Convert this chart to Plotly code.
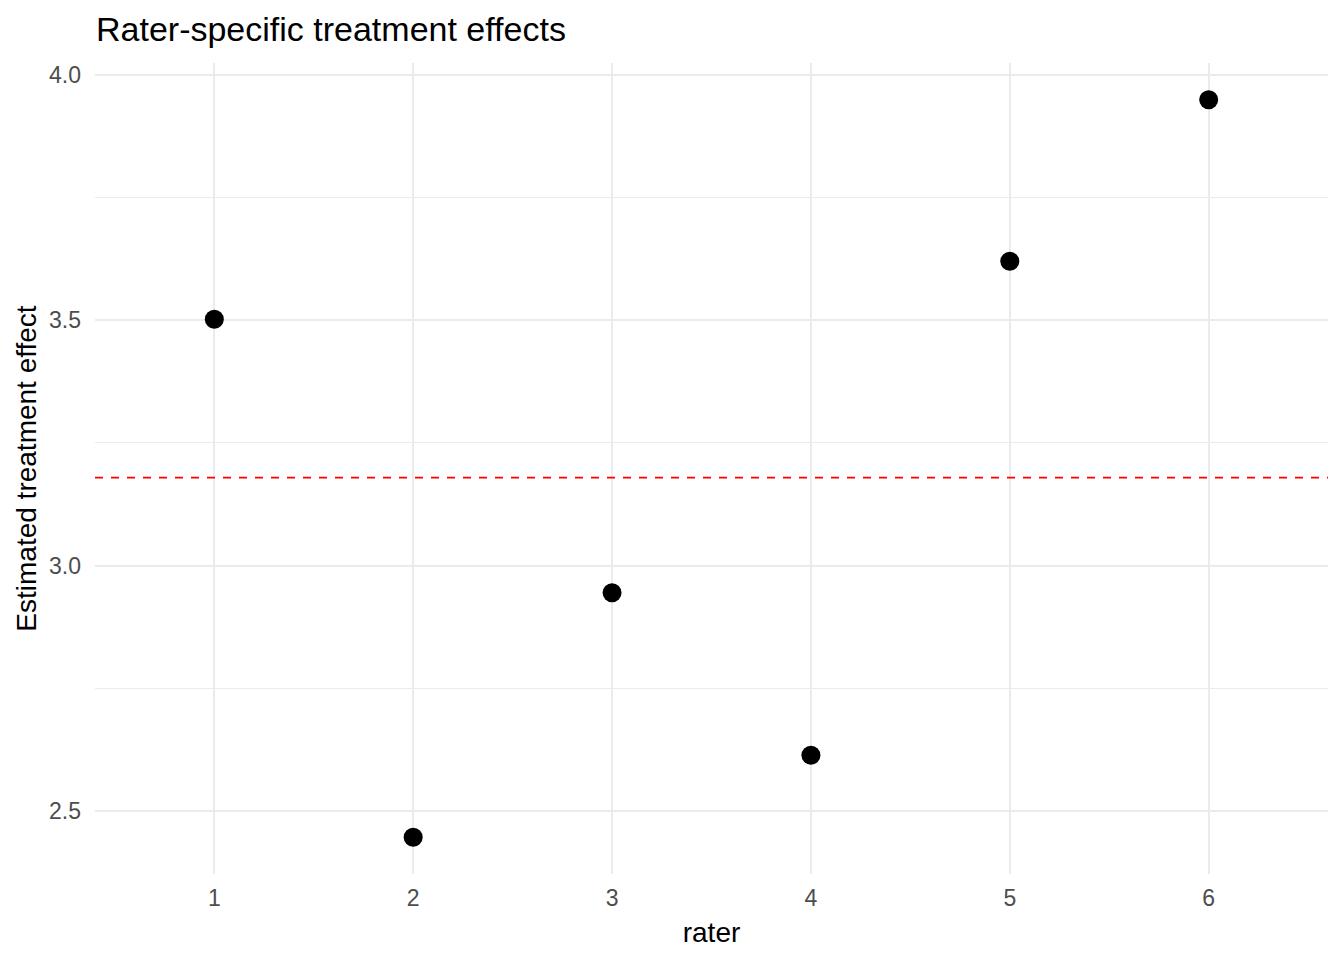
import plotly.graph_objects as go

raters = [1, 2, 3, 4, 5, 6]
effects = [3.502, 2.447, 2.945, 2.614, 3.620, 3.949]
mean_effect = sum(effects) / len(effects)

W, H = 1336, 952  # page body has an 8px offset
fig = go.Figure()
fig.add_trace(go.Scatter(
    x=raters, y=effects, mode="markers",
    marker=dict(color="black", size=19, line=dict(width=0)),
    showlegend=False, hoverinfo="x+y",
))
fig.add_shape(type="line", xref="paper", yref="y", x0=0, x1=1,
              y0=mean_effect, y1=mean_effect,
              line=dict(color="red", width=1.8, dash="8px,8px"))

fig.update_layout(
    width=W, height=H,
    paper_bgcolor="white", plot_bgcolor="white",
    margin=dict(l=87, r=16, t=55, b=86),
    font=dict(family="Liberation Sans, Arial, sans-serif", color="black"),
    title=dict(text="Rater-specific treatment effects", xref="container", yref="container",
               x=88 / W, xanchor="left", y=1 - 21 / H, yanchor="middle",
               font=dict(size=34, color="black")),
)
fig.update_xaxes(
    range=[0.4, 6.6], tickvals=raters, ticktext=[str(r) for r in raters],
    showgrid=True, gridcolor="#EBEBEB", gridwidth=2,
    zeroline=False, showline=False, ticks="", ticklabelstandoff=8,
    tickfont=dict(size=23, color="#4D4D4D"),
    title=dict(text="rater", font=dict(size=28, color="black"), standoff=12),
)
fig.update_yaxes(
    range=[2.372, 4.024], tickvals=[2.5, 3.0, 3.5, 4.0],
    ticktext=["2.5", "3.0", "3.5", "4.0"],
    showgrid=True, gridcolor="#EBEBEB", gridwidth=2,
    minor=dict(tickvals=[2.75, 3.25, 3.75], showgrid=True, gridcolor="#EBEBEB", gridwidth=1),
    zeroline=False, showline=False, ticks="", ticklabelstandoff=13,
    tickfont=dict(size=23, color="#4D4D4D"),
    title=dict(text="Estimated treatment effect", font=dict(size=28, color="black"), standoff=4),
)
fig.write_html("out.html")
